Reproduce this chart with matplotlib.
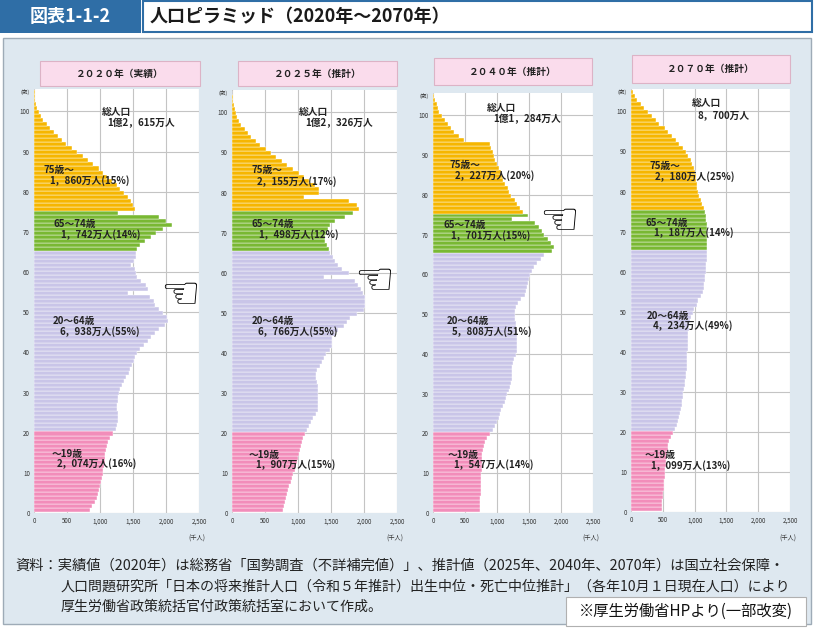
import matplotlib.pyplot as plt
from matplotlib.patches import Rectangle

plt.rcParams['font.family'] = ['Noto Sans CJK JP', 'DejaVu Sans']

W, H = 814, 628

# 年齢（0〜104歳）別人口（千人）
ages = list(range(105))

pop_2020 = [850, 880, 920, 950, 975, 990, 1000, 1020, 1030, 1040,
            1050, 1060, 1070, 1070, 1075, 1090, 1110, 1120, 1150, 1200,
            1240, 1260, 1270, 1270, 1270, 1260, 1260, 1270, 1280, 1290,
            1300, 1330, 1360, 1400, 1440, 1460, 1490, 1510, 1530, 1560,
            1600, 1660, 1720, 1780, 1840, 1900, 1980, 2030, 2010, 1960,
            1900, 1840, 1820, 1760, 1420, 1730, 1690, 1620, 1560, 1550,
            1530, 1470, 1520, 1540, 1540, 1560, 1600, 1680, 1780, 1850,
            1960, 2085, 2000, 1900, 1280, 1530, 1500, 1470, 1430, 1360,
            1300, 1250, 1180, 1110, 1050, 980, 900, 820, 740, 650,
            570, 490, 420, 360, 300, 240, 190, 140, 100, 75,
            50, 35, 22, 14, 8]

pop_2025 = [780, 790, 800, 820, 840, 855, 870, 890, 905, 930,
            955, 970, 990, 1005, 1015, 1030, 1045, 1060, 1080, 1100,
            1130, 1170, 1200, 1230, 1280, 1300, 1300, 1300, 1310, 1300,
            1300, 1300, 1290, 1280, 1280, 1290, 1330, 1360, 1400, 1430,
            1480, 1510, 1510, 1520, 1560, 1610, 1690, 1740, 1790, 1890,
            2000, 2020, 2020, 2010, 1990, 1960, 1910, 1860, 1390, 1780,
            1670, 1610, 1560, 1530, 1490, 1470, 1440, 1410, 1410, 1430,
            1460, 1490, 1560, 1710, 1840, 1930, 1890, 1770, 1090, 1320,
            1320, 1250, 1170, 1090, 1010, 930, 840, 750, 670, 590,
            510, 430, 360, 290, 240, 190, 140, 110, 80, 55,
            38, 25, 15, 9, 5]

pop_2040 = [735, 738, 740, 742, 745, 748, 750, 752, 755, 757,
            758, 760, 762, 765, 770, 787, 800, 813, 850, 885,
            940, 975, 1000, 1030, 1050, 1070, 1090, 1120, 1140, 1160,
            1180, 1200, 1225, 1230, 1230, 1230, 1240, 1250, 1260, 1290,
            1310, 1315, 1320, 1320, 1315, 1310, 1300, 1290, 1280, 1280,
            1280, 1300, 1330, 1370, 1430, 1450, 1465, 1480, 1495, 1515,
            1550, 1580, 1630, 1680, 1730, 1860, 1890, 1850, 1790, 1740,
            1700, 1660, 1600, 1230, 1490, 1400, 1360, 1310, 1280, 1220,
            1190, 1170, 1130, 1100, 1080, 1060, 1030, 1000, 970, 950,
            930, 910, 890, 480, 400, 330, 280, 230, 180, 140,
            100, 75, 55, 35, 18]

pop_2070 = [480, 487, 493, 500, 507, 512, 518, 524, 530, 535,
            542, 548, 555, 560, 568, 576, 587, 605, 630, 660,
            690, 717, 740, 760, 775, 785, 795, 805, 815, 825,
            835, 845, 855, 865, 870, 875, 875, 875, 880, 885,
            890, 895, 900, 900, 900, 905, 915, 927, 945, 970,
            995, 1030, 1060, 1095, 1130, 1145, 1155, 1160, 1165, 1175,
            1180, 1185, 1190, 1190, 1190, 1190, 1190, 1190, 1190, 1190,
            1190, 1190, 1185, 1175, 1165, 1150, 1120, 1095, 1075, 1060,
            1045, 1035, 1025, 1015, 1005, 990, 965, 940, 890, 860,
            810, 750, 705, 640, 580, 530, 440, 390, 330, 270,
            210, 150, 100, 60, 35]

group_edges = [0, 20, 65, 75, 105]
group_colors = ['#f28dba', '#c9c5e8', '#79b833', '#f6b600']

titles = ['２０２０年（実績）', '２０２５年（推計）', '２０４０年（推計）', '２０７０年（推計）']
totals = ['1億2，615万人', '1億2，326万人', '1億1，284万人', '8，700万人']
labels_2020 = ['～19歳', '2，074万人(16%)', '20～64歳', '6，938万人(55%)',
               '65～74歳', '1，742万人(14%)', '75歳～', '1，860万人(15%)']
labels_2025 = ['～19歳', '1，907万人(15%)', '20～64歳', '6，766万人(55%)',
               '65～74歳', '1，498万人(12%)', '75歳～', '2，155万人(17%)']
labels_2040 = ['～19歳', '1，547万人(14%)', '20～64歳', '5，808万人(51%)',
               '65～74歳', '1，701万人(15%)', '75歳～', '2，227万人(20%)']
labels_2070 = ['～19歳', '1，099万人(13%)', '20～64歳', '4，234万人(49%)',
               '65～74歳', '1，187万人(14%)', '75歳～', '2，180万人(25%)']

xticks = [0, 500, 1000, 1500, 2000, 2500]
xticklabels = ['0', '500', '1,000', '1,500', '2,000', '2,500']
yticks = list(range(0, 101, 10))

# レイアウト（ピクセル）
boxes = [(34, 89, 199, 513), (232, 90, 397, 513), (433, 93, 593, 513), (631, 89, 790, 512)]
title_boxes = [(40, 61, 200, 86), (238, 61, 397, 86), (434, 58, 592, 85), (632, 55, 790, 83)]
total_pos = [(102, 112, 107, 123), (299, 112, 305, 123), (487, 108, 493, 119), (692, 103, 697, 115)]
label_pos = [
    [(52, 454), (57, 464), (53, 321), (59, 332), (53, 224), (60, 235), (44, 170), (49, 181)],
    [(249, 455), (255, 465), (252, 321), (258, 332), (252, 224), (258, 235), (252, 170), (257, 182)],
    [(448, 455), (453, 465), (447, 321), (452, 332), (444, 225), (450, 236), (450, 165), (455, 176)],
    [(645, 455), (650, 466), (647, 316), (653, 326), (646, 223), (653, 233), (649, 166), (655, 177)],
]
hands = [(180, 296), (374, 282), (559, 222), None]

fig = plt.figure(figsize=(W / 100, H / 100), dpi=100)


def rect(x0, y0, x1, y1, **kw):
    fig.add_artist(Rectangle((x0 / W, 1 - y1 / H), (x1 - x0) / W, (y1 - y0) / H,
                             transform=fig.transFigure, **kw))


def ftext(x, y, s, **kw):
    fig.text(x / W, 1 - y / H, s, **kw)


# 見出し
rect(0, 0, 141, 33, facecolor='#2f6ea6', edgecolor='none', zorder=-2)
rect(143, 1, 812, 32, facecolor='white', edgecolor='#2f6ea6', linewidth=1.5, zorder=-2)
ftext(70, 17, '図表1-1-2', color='white', fontsize=13, fontweight='bold', ha='center', va='center')
ftext(150, 17, '人口ピラミッド（2020年～2070年）', color='#1a1a1a', fontsize=13,
      fontweight='bold', ha='left', va='center')
rect(3, 38, 811, 624, facecolor='#dee8f0', edgecolor='#9eabb7', linewidth=1, zorder=-2)

series = [pop_2020, pop_2025, pop_2040, pop_2070]
labels = [labels_2020, labels_2025, labels_2040, labels_2070]

for i in range(4):
    l, t, r, b = boxes[i]
    ax = fig.add_axes([l / W, 1 - b / H, (r - l) / W, (b - t) / H])
    ax.set_facecolor('white')
    data = series[i]
    for g in range(4):
        lo, hi = group_edges[g], group_edges[g + 1]
        ax.barh([a + 0.8 for a in ages[lo:hi]], data[lo:hi], height=1.0,
                color=group_colors[g], edgecolor='white', linewidth=0.3, zorder=2)
    ax.set_xlim(0, 2500)
    ax.set_ylim(0, 105.6)
    ax.set_xticks(xticks)
    ax.set_xticklabels(xticklabels)
    ax.set_yticks(yticks)
    ax.tick_params(length=0, labelsize=4.5, colors='#333333', pad=3)
    ax.grid(True, color='#c4c4c4', linewidth=0.8)
    ax.set_axisbelow(True)
    for sp in ax.spines.values():
        sp.set_visible(False)

    ftext(l - 9, t + 3, '(歳)', fontsize=4, color='#333333', ha='center', va='center')
    ftext(r - 2, 539, '(千人)', fontsize=4.5, color='#333333', ha='center', va='center')

    x0, y0, x1, y1 = title_boxes[i]
    rect(x0, y0, x1, y1, facecolor='#fadcec', edgecolor='#dcb3c6', linewidth=0.8, zorder=-1)
    ftext((x0 + x1) / 2, (y0 + y1) / 2, titles[i], fontsize=7, fontweight='bold',
          color='#222222', ha='center', va='center')

    tx, ty, tx2, ty2 = total_pos[i]
    ftext(tx, ty, '総人口', fontsize=7, fontweight='bold', color='#222222', va='center')
    ftext(tx2, ty2, totals[i], fontsize=7, fontweight='bold', color='#222222', va='center')
    for s, (x, y) in zip(labels[i], label_pos[i]):
        ftext(x, y, s, fontsize=7, fontweight='bold', color='#222222', va='center')

    if hands[i] is not None:
        hx, hy = hands[i]
        ftext(hx, hy, '☜', fontsize=32, color='black', ha='center', va='center',
              family='DejaVu Sans')

# 資料
src = ['資料：実績値（2020年）は総務省「国勢調査（不詳補完値）」、推計値（2025年、2040年、2070年）は国立社会保障・',
       '人口問題研究所「日本の将来推計人口（令和５年推計）出生中位・死亡中位推計」（各年10月１日現在人口）により',
       '厚生労働省政策統括官付政策統括室において作成。']
ftext(15, 566, src[0], fontsize=10.3, color='#222222', va='center')
ftext(61, 587, src[1], fontsize=10.1, color='#222222', va='center')
ftext(61, 607, src[2], fontsize=10.1, color='#222222', va='center')
rect(566, 597, 806, 626, facecolor='white', edgecolor='#b0b0b0', linewidth=0.8, zorder=2)
ftext(686, 611, '※厚生労働省HPより(一部改変)', fontsize=11, color='#111111',
      ha='center', va='center')

fig.savefig('out.png', dpi=100)
